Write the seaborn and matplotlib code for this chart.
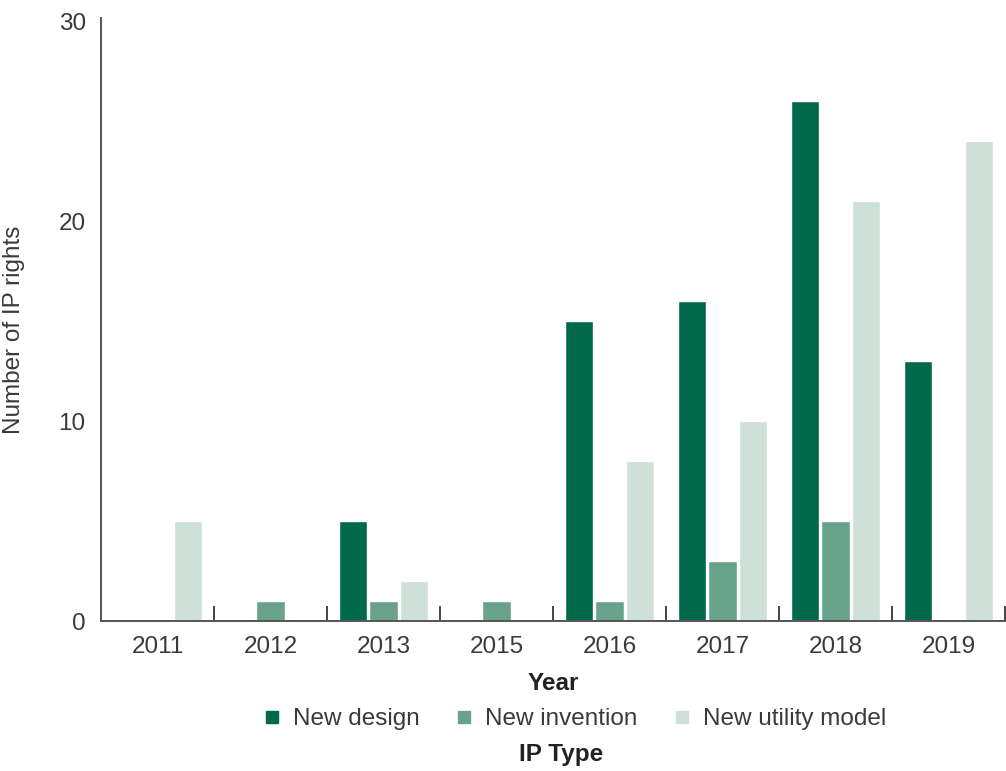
import matplotlib
matplotlib.use("Agg")
import matplotlib.pyplot as plt
from matplotlib.lines import Line2D
import seaborn as sns
import pandas as pd

years = ["2011", "2012", "2013", "2015", "2016", "2017", "2018", "2019"]
new_design = [0, 0, 5, 0, 15, 16, 26, 13]
new_invention = [0, 1, 1, 1, 1, 3, 5, 0]
new_utility_model = [5, 0, 2, 0, 8, 10, 21, 24]
ip_types = ["New design", "New invention", "New utility model"]
palette = ["#00694a", "#6aa38b", "#cfe0d9"]

df = pd.DataFrame({
    "Year": years * 3,
    "IP Type": [ip_types[0]] * 8 + [ip_types[1]] * 8 + [ip_types[2]] * 8,
    "Number of IP rights": new_design + new_invention + new_utility_model,
})

sns.set_theme(style="white")
plt.rcParams["font.family"] = ["Liberation Sans", "DejaVu Sans"]
text_color = "#3a3a3a"

fig = plt.figure(figsize=(10.06, 7.71), dpi=100)
ax = fig.add_axes([101 / 1006, 1 - 621 / 771, 904 / 1006, (621 - 18) / 771])

sns.barplot(data=df, x="Year", y="Number of IP rights", hue="IP Type",
            order=years, hue_order=ip_types, palette=palette,
            width=0.8, gap=0.07, saturation=1, ax=ax, legend=False)

ax.set_xlim(-0.5, 7.5)
ax.set_ylim(0, 30.15)
ax.set_yticks([0, 10, 20, 30])
ax.tick_params(axis="y", length=0, pad=11, labelsize=17.5, labelcolor=text_color)
ax.tick_params(axis="x", length=0, pad=11, labelsize=17.5, labelcolor=text_color)

# upward separator ticks between year groups
for b in [i + 0.5 for i in range(8)]:
    ax.plot([b, b], [0, 0.75], color="#444444", lw=1.4, clip_on=False,
            solid_capstyle="butt")

for side in ["top", "right"]:
    ax.spines[side].set_visible(False)
for side in ["left", "bottom"]:
    ax.spines[side].set_color("#555555")
    ax.spines[side].set_linewidth(1.4)

ax.set_xlabel("Year", fontsize=17.5, fontweight="bold", color="#222222", labelpad=10)
ax.set_ylabel("Number of IP rights", fontsize=17.5, color=text_color)
ax.yaxis.set_label_coords(-0.084, 0.483)

handles = [Line2D([0], [0], marker="s", linestyle="none", markersize=9,
                  markerfacecolor=c, markeredgecolor=c) for c in palette]
fig.legend(handles, ip_types, loc="center", bbox_to_anchor=(573 / 1006, 1 - 719 / 771),
           ncol=3, frameon=False, fontsize=17.5, labelcolor=text_color,
           handletextpad=0.35, columnspacing=1.35, handlelength=1.0)
fig.text(561 / 1006, 1 - 755 / 771, "IP Type", ha="center", va="center",
         fontsize=17.5, fontweight="bold", color="#222222")

fig.savefig("out.png", dpi=100)
